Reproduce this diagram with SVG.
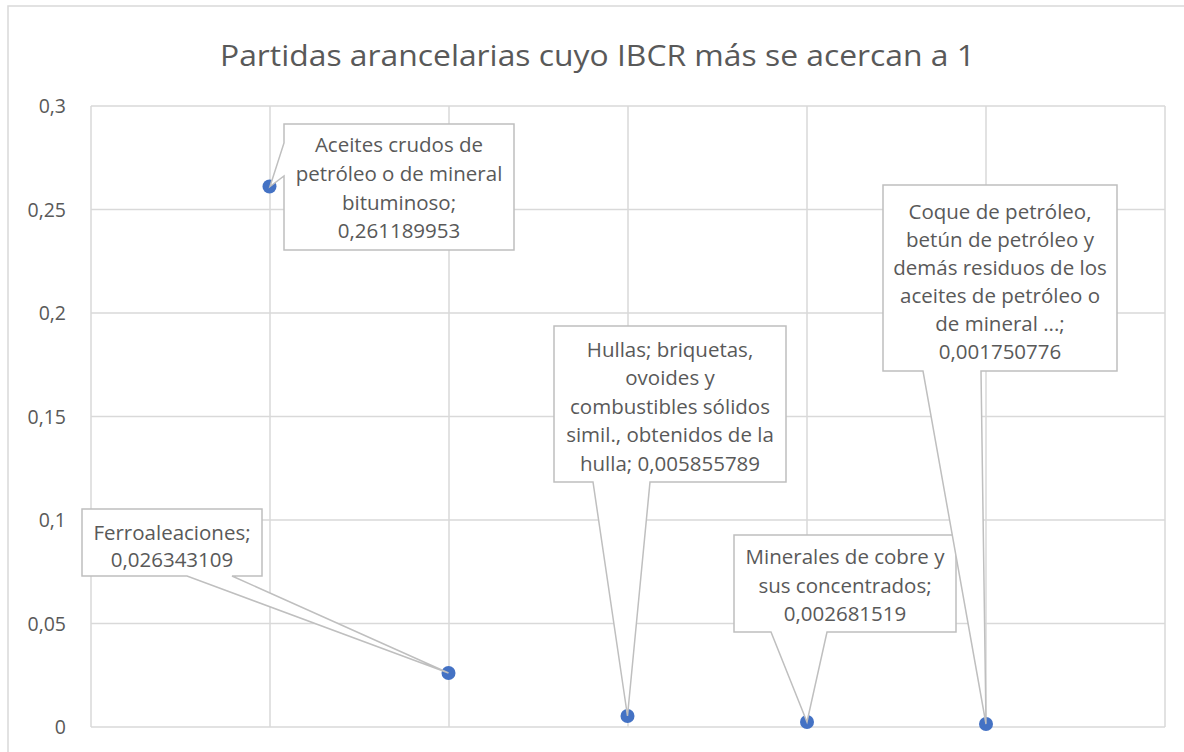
<svg xmlns="http://www.w3.org/2000/svg" width="1184" height="752" viewBox="0 0 1184 752">
<style>
.frame{fill:#fff;stroke:#d9d9d9;stroke-width:1.5}
.grid{stroke:#d9d9d9;stroke-width:1.5;fill:none}
.axis{font-family:"Open Sans","Liberation Sans",sans-serif;font-size:19.5px;fill:#595959;text-anchor:end}
.title{font-family:"Open Sans","Liberation Sans",sans-serif;font-size:29px;fill:#595959;text-anchor:middle}
.callout{fill:#fff;stroke:#bfbfbf;stroke-width:1.5;stroke-linejoin:miter}
.lbl{font-family:"Open Sans","Liberation Sans",sans-serif;font-size:20.5px;fill:#595959;text-anchor:middle}
.pt{fill:#4472c4}
</style>
<rect x="0" y="0" width="1184" height="752" fill="#fff"/>
<rect class="frame" x="8" y="6" width="1190" height="760"/>
<text class="title" x="597.5" y="66" textLength="755" lengthAdjust="spacingAndGlyphs">Partidas arancelarias cuyo IBCR más se acercan a 1</text>
<g id="grid">
<path class="grid" d="M91,106H1165M91,209.5H1165M91,313H1165M91,416.5H1165M91,520H1165M91,623.5H1165M91,727H1165M91,106V727M270,106V727M449,106V727M628,106V727M807,106V727M986,106V727M1165,106V727"/>
</g>
<g id="y-axis">
<text class="axis" x="66" y="113">0,3</text>
<text class="axis" x="66" y="216.5">0,25</text>
<text class="axis" x="66" y="320">0,2</text>
<text class="axis" x="66" y="423.5">0,15</text>
<text class="axis" x="66" y="527">0,1</text>
<text class="axis" x="66" y="630.5">0,05</text>
<text class="axis" x="66" y="734">0</text>
</g>
<g id="points">
<circle class="pt" cx="269.5" cy="186.5" r="7"/>
<circle class="pt" cx="448.5" cy="673" r="7"/>
<circle class="pt" cx="627.5" cy="716" r="7"/>
<circle class="pt" cx="807" cy="722" r="7"/>
<circle class="pt" cx="986" cy="724" r="7"/>
</g>
<g id="label-aceites">
<path class="callout" d="M284,124H514V250H284V176L270,186.5L284,143Z"/>
<text class="lbl" x="399" y="152">Aceites crudos de</text>
<text class="lbl" x="399" y="181">petróleo o de mineral</text>
<text class="lbl" x="399" y="209.5">bituminoso;</text>
<text class="lbl" x="399" y="238">0,261189953</text>
</g>
<g id="label-ferro">
<path class="callout" d="M82,509H262V576H232L448.5,673L187,576H82Z"/>
<text class="lbl" x="172" y="539.5">Ferroaleaciones;</text>
<text class="lbl" x="172" y="566.5">0,026343109</text>
</g>
<g id="label-hullas">
<path class="callout" d="M554,326H786V482H650L627.5,716L593,482H554Z"/>
<text class="lbl" x="670" y="356.5">Hullas; briquetas,</text>
<text class="lbl" x="670" y="385">ovoides y</text>
<text class="lbl" x="670" y="413.5">combustibles sólidos</text>
<text class="lbl" x="670" y="442">simil., obtenidos de la</text>
<text class="lbl" x="670" y="470.5">hulla; 0,005855789</text>
</g>
<g id="label-minerales">
<path class="callout" d="M734,535H956V632H827L807,722L771,632H734Z"/>
<text class="lbl" x="845" y="564">Minerales de cobre y</text>
<text class="lbl" x="845" y="592.5">sus concentrados;</text>
<text class="lbl" x="845" y="621">0,002681519</text>
</g>
<g id="label-coque">
<path class="callout" d="M883,185H1117V371H981L986,724L923,371H883Z"/>
<text class="lbl" x="1000" y="218.5">Coque de petróleo,</text>
<text class="lbl" x="1000" y="246.5">betún de petróleo y</text>
<text class="lbl" x="1000" y="274.5">demás residuos de los</text>
<text class="lbl" x="1000" y="302.5">aceites de petróleo o</text>
<text class="lbl" x="1000" y="330.5">de mineral ...;</text>
<text class="lbl" x="1000" y="358.5">0,001750776</text>
</g>
</svg>
